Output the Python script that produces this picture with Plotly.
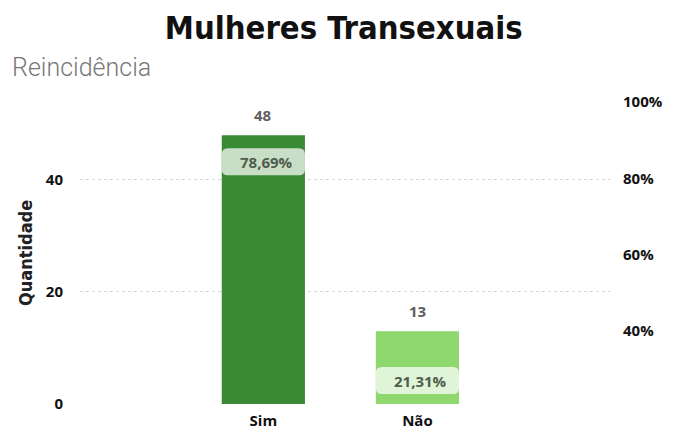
import plotly.graph_objects as go

categories = ["Sim", "Não"]
quantidade = [48, 13]
percentual = [78.69, 21.31]
pct_labels = ["78,69%", "21,31%"]
bar_colors = ["#3a8a35", "#8fd76f"]

left_range = [0, 54.64]
right_range = [20.79, 101.05]
bar_width = 0.54
x_pos = list(range(len(categories)))

fig = go.Figure()
fig.add_trace(go.Bar(
    x=x_pos, y=quantidade, width=bar_width,
    marker=dict(color=bar_colors, line=dict(width=0)),
    showlegend=False, hoverinfo="skip",
))
fig.add_trace(go.Scatter(
    x=x_pos, y=percentual, yaxis="y2", mode="markers",
    marker=dict(opacity=0), showlegend=False, hoverinfo="skip",
))

shapes = []
annotations = []
for xi, v in zip(x_pos, quantidade):
    annotations.append(dict(x=xi, y=v, xref="x", yref="y", yshift=20,
                            text=str(v), showarrow=False,
                            font=dict(family="Open Sans", size=15, color="#5f5f5f",
                                      weight="bold")))
for xi, p, lab in zip(x_pos, percentual, pct_labels):
    x0 = xi - bar_width / 2
    x1 = xi + bar_width / 2
    r = 6
    h0, h1 = 8, 35
    dx = r / 154.0
    path = (f"M {x0+dx},{h0} L {x1-dx},{h0} Q {x1},{h0} {x1},{h0+r} "
            f"L {x1},{h1-r} Q {x1},{h1} {x1-dx},{h1} L {x0+dx},{h1} "
            f"Q {x0},{h1} {x0},{h1-r} L {x0},{h0+r} Q {x0},{h0} {x0+dx},{h0} Z")
    shapes.append(dict(type="path", xref="x", yref="y2", ysizemode="pixel",
                       yanchor=p, path=path,
                       fillcolor="rgba(255,255,255,0.72)", line=dict(width=0),
                       layer="above"))
    annotations.append(dict(x=xi, y=p, xref="x", yref="y2", yshift=21, xshift=3,
                            text=lab, showarrow=False,
                            font=dict(family="Open Sans", size=15, color="#4f5d4d",
                                      weight="bold")))

annotations.append(dict(x=(10 - 80) / 530, y=1 + (98 - 68) / 306, xref="paper", yref="paper",
                        xanchor="left", yanchor="middle", text="Reincidência", showarrow=False,
                        font=dict(family="Roboto", size=25, color="#777777", weight=300)))
annotations.append(dict(x=(25 - 80) / 530, y=0.5 - (253 - 251) / 306, xref="paper", yref="paper",
                        text="Quantidade", textangle=-90, showarrow=False,
                        xanchor="center", yanchor="middle",
                        font=dict(family="Liberation Sans Narrow, DejaVu Sans Condensed",
                                  size=18, color="#222222", weight="bold")))

fig.update_layout(
    width=674, height=430,
    margin=dict(l=80, r=64, t=98, b=26, autoexpand=False),
    paper_bgcolor="white", plot_bgcolor="white",
    title=dict(text="<b>Mulheres Transexuais</b>", x=0.51, xanchor="center",
               y=1 - 28 / 430, yanchor="middle",
               font=dict(family="DejaVu Sans Condensed", size=32.5, color="#111111")),
    xaxis=dict(tickvals=x_pos, ticktext=categories, range=[-1.19, 2.25],
               showgrid=False, zeroline=False, showline=False, ticks="",
               automargin=False, ticklabelstandoff=6,
               tickfont=dict(family="Open Sans", size=15, color="#111111", weight="bold")),
    yaxis=dict(range=left_range, tickvals=[0, 20, 40], showgrid=True,
               gridcolor="#d6d6d6", griddash="dot", gridwidth=1, zeroline=False,
               ticks="", ticklabelstandoff=16, automargin=False,
               tickfont=dict(family="Open Sans", size=15, color="#111111", weight="bold")),
    yaxis2=dict(range=right_range, overlaying="y", side="right",
                tickvals=[40, 60, 80, 100], ticktext=["40%", "60%", "80%", "100%"],
                showgrid=False, zeroline=False, ticks="", ticklabelstandoff=12,
                automargin=False,
                tickfont=dict(family="Open Sans", size=15, color="#111111", weight="bold")),
    shapes=shapes,
    annotations=annotations,
)
fig.write_html("out.html", config={"displayModeBar": False},
               post_script="document.body.style.margin='0';")
